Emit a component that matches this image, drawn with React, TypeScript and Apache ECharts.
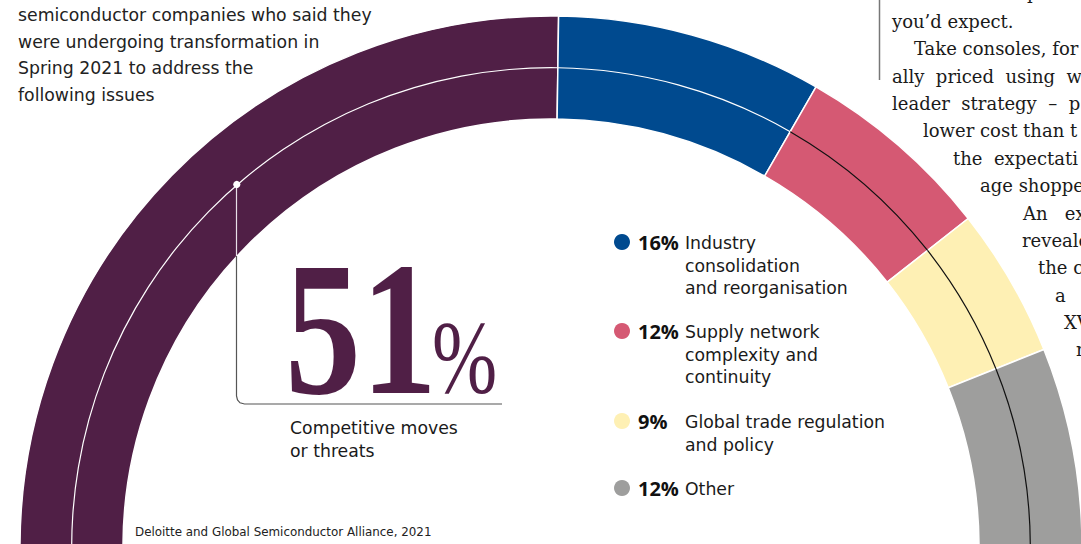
import React, { useEffect, useRef } from "react";
import * as echarts from "echarts";

const categories = [
  "Competitive moves or threats",
  "Industry consolidation and reorganisation",
  "Supply network complexity and continuity",
  "Global trade regulation and policy",
  "Other",
];
const values = [51, 16, 12, 9, 12];
const colors = ["#501F46", "#004A8F", "#D55973", "#FEF0B4", "#9E9E9D"];
const midLineColors = ["#FFFFFF", "#FFFFFF", "#111111", "#111111", "#111111"];

const legendLines = [
  ["Industry", "consolidation", "and reorganisation"],
  ["Supply network", "complexity and", "continuity"],
  ["Global trade regulation", "and policy"],
  ["Other"],
];

const introLines = [
  "semiconductor companies who said they",
  "were undergoing transformation in",
  "Spring 2021 to address the",
  "following issues",
];

const articleLines: [string, number, number][] = [
  ["tem lines. The prod", 892, -8],
  ["you\u2019d expect.", 892, 21],
  ["Take consoles, for", 914, 48],
  ["ally  priced  using  w", 892, 76],
  ["leader  strategy  \u2013  p", 892, 103],
  ["lower cost than t", 923, 130],
  ["the  expectati", 953, 158],
  ["age shoppe", 980, 185],
  ["An   ex", 1023, 213],
  ["reveale", 1022, 240],
  ["the c", 1038, 267],
  ["a   p", 1055, 295],
  ["XV", 1064, 322],
  ["n", 1076, 349],
];

const SANS = "'DejaVu Sans', 'Open Sans', sans-serif";
const BOLD_SANS = "'Open Sans', 'Noto Sans', sans-serif";
const SERIF = "'DejaVu Serif', serif";

export default function App() {
  const ref = useRef<HTMLDivElement>(null);
  useEffect(() => {
    document.body.style.margin = "0";
    const chart = echarts.init(ref.current!, null, { renderer: "svg" });
    const graphics: any[] = [];

    introLines.forEach((t, i) => {
      graphics.push({
        type: "text",
        x: 18,
        y: 15 + i * 26.7,
        style: { text: t, font: `17.3px ${SANS}`, fill: "#222", verticalAlign: "middle" },
        silent: true,
      });
    });

    articleLines.forEach(([t, x, y]) => {
      graphics.push({
        type: "text",
        x,
        y,
        style: { text: t, font: `18px ${SERIF}`, fill: "#1a1a1a", verticalAlign: "middle" },
        silent: true,
      });
    });

    graphics.push({
      type: "line",
      shape: { x1: 879.5, y1: 0, x2: 879.5, y2: 80 },
      style: { stroke: "#777", lineWidth: 1.5 },
      silent: true,
    });

    // annotation leader line
    graphics.push({
      type: "polyline",
      shape: {
        points: [
          [236.5, 256],
          [236.5, 396],
          [237.5, 400],
          [240, 402.8],
          [244.5, 404],
          [502, 404],
        ],
      },
      style: { stroke: "#555", lineWidth: 1.2, fill: null },
      silent: true,
      z: 10,
    });
    graphics.push({
      type: "line",
      shape: { x1: 236.5, y1: 185, x2: 236.5, y2: 256 },
      style: { stroke: "#E8E0E8", lineWidth: 1.2 },
      silent: true,
      z: 10,
    });
    graphics.push({
      type: "circle",
      shape: { cx: 236.8, cy: 184.5, r: 3.6 },
      style: { fill: "#FFFFFF" },
      silent: true,
      z: 11,
    });

    graphics.push({
      type: "text",
      x: 285,
      y: 329,
      scaleX: 0.8,
      style: {
        text: String(values[0]),
        font: `bold 190px 'Liberation Serif', serif`,
        fill: colors[0],
        verticalAlign: "middle",
      },
      silent: true,
    });
    graphics.push({
      type: "text",
      x: 432,
      y: 358,
      scaleX: 0.76,
      style: {
        text: "%",
        font: `103px 'Liberation Serif', serif`,
        fill: colors[0],
        verticalAlign: "middle",
      },
      silent: true,
    });
    ["Competitive moves", "or threats"].forEach((t, i) => {
      graphics.push({
        type: "text",
        x: 290,
        y: 428 + i * 22.5,
        style: { text: t, font: `17.3px ${SANS}`, fill: "#1a1a1a", verticalAlign: "middle" },
        silent: true,
      });
    });

    const legendY = [243, 332, 422, 489];
    legendLines.forEach((lines, k) => {
      const i = k + 1;
      const y0 = legendY[k];
      graphics.push({
        type: "circle",
        shape: { cx: 622, cy: y0 - 1, r: 8 },
        style: { fill: colors[i] },
        silent: true,
      });
      graphics.push({
        type: "text",
        x: 638,
        y: y0 - 1,
        style: {
          text: `${values[i]}%`,
          font: `bold 20px ${BOLD_SANS}`,
          fill: "#111",
          verticalAlign: "middle",
        },
        silent: true,
      });
      lines.forEach((t, j) => {
        graphics.push({
          type: "text",
          x: 685,
          y: y0 + j * 22.7,
          style: { text: t, font: `17.3px ${SANS}`, fill: "#1a1a1a", verticalAlign: "middle" },
          silent: true,
        });
      });
    });

    graphics.push({
      type: "text",
      x: 135,
      y: 532,
      style: {
        text: "Deloitte and Global Semiconductor Alliance, 2021",
        font: `11.9px ${SANS}`,
        fill: "#222",
        verticalAlign: "middle",
      },
      silent: true,
    });

    chart.setOption({
      animation: false,
      backgroundColor: "#FFFFFF",
      series: [
        {
          type: "pie",
          center: [551, 547],
          radius: [428, 531],
          startAngle: 182,
          endAngle: 0,
          clockwise: true,
          silent: true,
          label: { show: false },
          labelLine: { show: false },
          itemStyle: { borderColor: "#FFFFFF", borderWidth: 1.5 },
          data: values.map((v, i) => ({
            name: categories[i],
            value: v,
            itemStyle: { color: colors[i] },
          })),
          z: 1,
        },
        {
          type: "pie",
          center: [551, 547],
          radius: [478.7, 479.9],
          startAngle: 182,
          endAngle: 0,
          clockwise: true,
          silent: true,
          label: { show: false },
          labelLine: { show: false },
          itemStyle: { borderWidth: 0 },
          data: values.map((v, i) => ({
            name: categories[i] + " line",
            value: v,
            itemStyle: { color: midLineColors[i] },
          })),
          z: 2,
        },
      ],
      graphic: graphics,
    });
    return () => chart.dispose();
  }, []);
  return (
    <div
      ref={ref}
      style={{ position: "absolute", left: 0, top: 0, width: 1081, height: 544 }}
    />
  );
}
